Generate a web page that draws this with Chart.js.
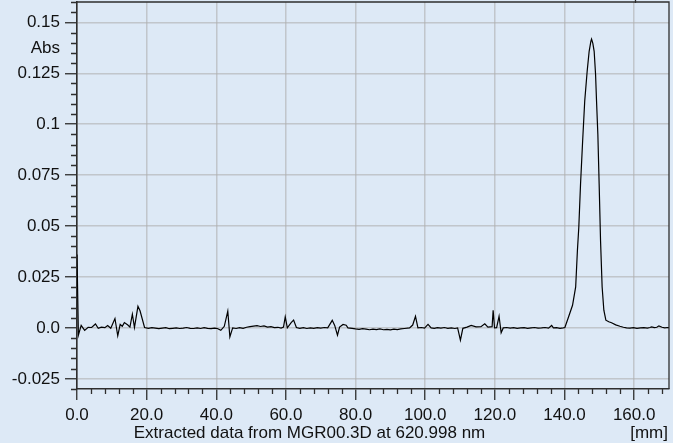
<!DOCTYPE html>
<html>
<head>
<meta charset="utf-8">
<script src="https://cdn.jsdelivr.net/npm/chart.js@4/dist/chart.umd.min.js"></script>
<style>
  html, body { margin: 0; padding: 0; background: #dde9f6; }
  #wrap { width: 673px; height: 443px; position: relative; }
</style>
</head>
<body>
<div id="wrap"><canvas id="c" width="673" height="443"></canvas></div>
<script>
// Extracted chromatogram trace: position along the plate [mm] and absorbance
const positionsMm = [
  0, 0.4, 1.2, 2.2, 3.2, 4.2, 5.3, 6.1, 7.0, 8.0, 8.8, 9.7, 10.9, 11.7, 12.4, 13.0, 13.6, 14.6, 15.2, 15.9,
  16.5, 17.5, 18.1, 19.4,
  20.5, 21.5, 22.5, 23.5, 24.5, 25.5, 26.5, 27.5, 28.5, 29.5, 30.5, 31.5, 32.5, 33.5, 34.5, 35.5, 36.5, 37.5, 38.5, 39.5, 40.3,
  41.3, 42.3, 43.3, 43.9, 44.7, 45.7, 46.7, 47.7, 48.7, 49.7, 50.7, 51.7, 52.7, 53.7, 54.7, 55.7, 56.7, 57.7, 58.6, 59.3, 59.8, 60.4,
  61.5, 62.2, 63.0, 64.0, 65.0, 66.0, 67.0, 68.0, 69.0, 70.0, 71.0, 72.0, 73.3, 74.0, 74.8, 75.4, 76.4, 77.3, 77.8,
  79, 80, 81, 82, 83, 84, 85, 86, 87, 88, 89, 90, 91, 92, 93, 94, 95.5, 96.4, 97.2, 97.9, 98.9, 99.8, 100.8, 101.7,
  102.6, 103.5, 104.5, 105.5, 106.5, 107.5, 108.5, 109.3, 110.1, 110.8, 112, 113.2, 114.6, 116, 117.1, 118, 119.2, 119.5, 119.9,
  120.5, 121.2, 121.8, 122.4, 123.4, 124.4, 125.4, 126.4, 127.4, 128.4, 129.4, 130.4, 131.4, 132.4, 133.4, 134.4, 135.4, 136.3, 136.8,
  137.7, 138.7, 139.6,
  140.1, 141.0, 142.3, 143.2, 143.7, 144.1, 144.6, 145.2, 145.8, 146.5, 147.07, 147.56, 147.76,
  148.13, 148.51, 148.91, 149.19, 149.57, 149.94, 150.34, 150.8, 151.29, 151.87, 152.7, 153.5, 154.7, 155.9, 156.9, 157.8,
  158.8, 159.8, 160.8, 161.8, 162.8, 163.8, 164.5, 165, 165.8, 166.5, 167.1, 168, 168.8, 169.5, 170
];
const absorbance = [
  0.036, -0.0036, 0.0012, -0.0012, 0.0003, 0.0002, 0.0019, -0.0002, 0.0004, 0.0001, 0.0012, -0.0002, 0.0046, -0.0039, 0.0017, 0.0008, 0.0026, 0.0014, 0.0004, 0.0067,
  0.0002, 0.0106, 0.0084, 0.0002,
  -0.0002, 0.0001, -0.0001, -0.0004, -0.0001, 0.0001, -0.0004, -0.0002, 0.0000, -0.0003, -0.0001, 0.0002, -0.0002, -0.0003, 0.0000, -0.0003, 0.0001, -0.0002, -0.0004, -0.0001, -0.0003,
  -0.0012, 0.0008, 0.0082, -0.0044, 0.0000, -0.0003, 0.0001, -0.0002, 0.0003, 0.0006, 0.0009, 0.0011, 0.0007, 0.0010, 0.0004, 0.0006, 0.0001, 0.0003, -0.0001, 0.0004, 0.0054, 0.0000,
  0.0026, 0.0038, 0.0002, -0.0002, 0.0001, -0.0003, 0.0000, -0.0002, 0.0001, -0.0001, 0.0002, 0.0000, 0.0037, 0.0012, -0.0036, 0.0004, 0.0017, 0.0013, 0.0000,
  -0.0002, -0.0005, -0.0007, -0.0004, -0.0006, -0.0009, -0.0006, -0.0008, -0.0005, -0.0009, -0.0007, -0.0010, -0.0006, -0.0008, -0.0005, -0.0003, 0.0000, 0.0014, 0.0057, 0.0000, 0.0002, -0.0001, 0.0017, 0.0000,
  -0.0002, 0.0001, -0.0001, 0.0002, -0.0002, 0.0000, -0.0003, 0.0000, -0.0060, -0.0002, 0.0004, 0.0012, 0.0005, 0.0006, 0.0020, 0.0004, 0.0006, 0.0087, 0.0000,
  0.0001, 0.0057, -0.0024, 0.0000, 0.0002, -0.0001, 0.0001, -0.0002, 0.0000, 0.0001, -0.0002, 0.0000, 0.0002, -0.0001, 0.0000, 0.0002, -0.0001, 0.0012, 0.0000,
  0.0001, -0.0002, 0.0000,
  0.0002, 0.0046, 0.0111, 0.0201, 0.0380, 0.0494, 0.0707, 0.0918, 0.1114, 0.1260, 0.1358, 0.1407, 0.1418,
  0.1397, 0.1358, 0.1245, 0.1114, 0.0951, 0.0707, 0.0429, 0.0201, 0.0087, 0.0038, 0.0030, 0.0025, 0.0015, 0.0008, 0.0003, 0.0000,
  -0.0001, 0.0001, -0.0002, 0.0000, 0.0001, -0.0001, 0.0002, 0.0005, 0.0001, 0.0003, 0.0010, 0.0003, 0.0000, 0.0002, 0.0001
];

// Axis ticks and their printed labels
const xTickValues = [0, 20, 40, 60, 80, 100, 120, 140, 160];
const xTickLabels = ['0.0', '20.0', '40.0', '60.0', '80.0', '100.0', '120.0', '140.0', '160.0'];
const yTickValues = [-0.025, 0, 0.025, 0.05, 0.075, 0.1, 0.125, 0.15];
const yTickLabels = ['-0.025', '0.0', '0.025', '0.05', '0.075', '0.1', '0.125', '0.15'];

const xRange = [0, 170];
const yRange = [-0.03, 0.16];
const unitLabel = 'Abs';
const unitLabelAt = 0.1375;
const axisCaption = 'Extracted data from MGR00.3D at 620.998 nm';
const axisUnit = '[mm]';

const FONT = "'Liberation Sans', Arial, Helvetica, sans-serif";
const AXIS_COLOR = '#2e2e2e';
const GRID_COLOR = 'rgba(175,175,175,0.6)';

const trace = positionsMm.map((x, i) => ({ x, y: absorbance[i] }));

// Minor ticks, frame and captions drawn on top of the library's axes
const decorations = {
  id: 'decorations',
  beforeDraw(chart) {
    const { ctx } = chart;
    ctx.save();
    ctx.fillStyle = '#dde9f6';
    ctx.fillRect(0, 0, chart.width, chart.height);
    ctx.restore();
  },
  afterDraw(chart) {
    const { ctx, chartArea: a, scales } = chart;
    const xs = scales.x, ys = scales.y;
    ctx.save();
    ctx.strokeStyle = AXIS_COLOR;
    ctx.lineWidth = 1.3;

    // minor ticks on the y axis (every 0.005)
    ctx.beginPath();
    for (let k = -6; k <= 32; k++) {
      if (k % 5 === 0) continue;
      const py = Math.round(ys.getPixelForValue(k * 0.005)) + 0.5;
      ctx.moveTo(a.left - 6, py);
      ctx.lineTo(a.left, py);
    }
    // minor ticks on the x axis (every 4 mm)
    for (let m = 0; m <= 170; m += 4) {
      if (m % 20 === 0) continue;
      const px = Math.round(xs.getPixelForValue(m)) + 0.5;
      ctx.moveTo(px, a.bottom);
      ctx.lineTo(px, a.bottom + 5);
    }
    ctx.stroke();

    // top and right frame
    ctx.beginPath();
    ctx.moveTo(a.left, a.top);
    ctx.lineTo(a.right, a.top);
    ctx.lineTo(a.right, a.bottom);
    ctx.moveTo(635.5, 0);
    ctx.lineTo(635.5, a.top + 1);
    ctx.stroke();

    // captions
    ctx.fillStyle = '#111';
    ctx.font = '17px ' + FONT;
    ctx.textBaseline = 'middle';
    ctx.textAlign = 'right';
    ctx.fillText(unitLabel, a.left - 17, ys.getPixelForValue(unitLabelAt));
    ctx.textBaseline = 'alphabetic';
    ctx.textAlign = 'center';
    ctx.fillText(axisCaption, 309.5, 438);
    ctx.textAlign = 'right';
    ctx.fillText(axisUnit, 668, 438);
    ctx.restore();
  }
};

new Chart(document.getElementById('c'), {
  type: 'line',
  data: {
    datasets: [{
      data: trace,
      borderColor: '#000',
      borderWidth: 1.2,
      pointRadius: 0,
      tension: 0,
      fill: false
    }]
  },
  options: {
    responsive: false,
    animation: false,
    events: [],
    layout: { padding: { top: 2, right: 4, left: 0, bottom: 0 } },
    plugins: { legend: { display: false }, tooltip: { enabled: false } },
    scales: {
      x: {
        type: 'linear',
        min: xRange[0],
        max: xRange[1],
        afterBuildTicks: s => { s.ticks = xTickValues.map(v => ({ value: v })); },
        afterFit: s => { s.height = 54; s.paddingLeft = 0; s.paddingRight = 0; },
        ticks: {
          autoSkip: false,
          maxRotation: 0,
          padding: 5,
          color: '#111',
          font: { family: FONT, size: 17 },
          callback: (v, i) => xTickLabels[i]
        },
        grid: {
          color: GRID_COLOR,
          lineWidth: 1.5,
          tickColor: AXIS_COLOR,
          tickLength: 11,
          tickWidth: 1.3
        },
        border: { color: AXIS_COLOR, width: 1.6 }
      },
      y: {
        type: 'linear',
        min: yRange[0],
        max: yRange[1],
        afterBuildTicks: s => { s.ticks = yTickValues.map(v => ({ value: v })); },
        afterFit: s => { s.width = 77; s.paddingTop = 0; s.paddingBottom = 0; },
        ticks: {
          autoSkip: false,
          padding: 5,
          color: '#111',
          font: { family: FONT, size: 17 },
          callback: (v, i) => yTickLabels[i]
        },
        grid: {
          color: GRID_COLOR,
          lineWidth: 1.5,
          tickColor: AXIS_COLOR,
          tickLength: 12,
          tickWidth: 1.3
        },
        border: { color: AXIS_COLOR, width: 1.6 }
      }
    }
  },
  plugins: [decorations]
});
</script>
</body>
</html>
